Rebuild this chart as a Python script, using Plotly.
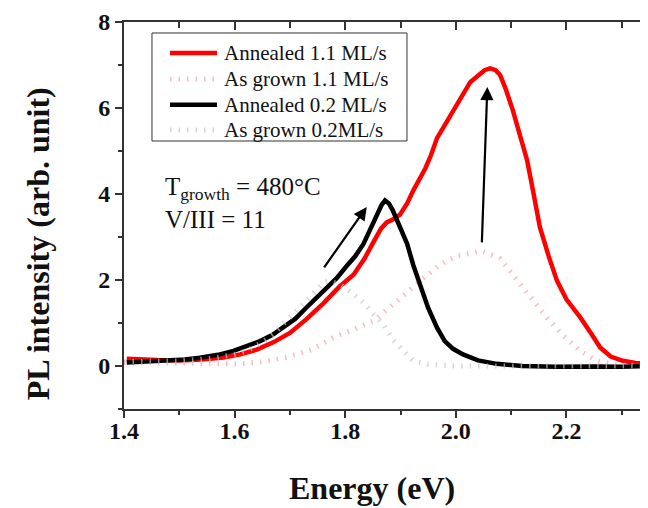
import plotly.graph_objects as go

# ---- data ----
e_ann11 = [1.405, 1.43, 1.46, 1.50, 1.54, 1.58, 1.61, 1.64, 1.67, 1.70, 1.73, 1.76, 1.79, 1.815, 1.835,
           1.851, 1.865, 1.875, 1.885, 1.899, 1.912, 1.923, 1.935, 1.945, 1.955, 1.966, 1.98, 1.992, 2.002,
           2.015, 2.026, 2.04, 2.052, 2.062, 2.072, 2.080, 2.09, 2.103, 2.116, 2.129, 2.14, 2.152, 2.168,
           2.183, 2.20, 2.225, 2.245, 2.261, 2.28, 2.302, 2.325, 2.35]
i_ann11 = [0.17, 0.15, 0.14, 0.13, 0.15, 0.2, 0.27, 0.38, 0.55, 0.77, 1.09, 1.45, 1.85, 2.12, 2.5,
           2.88, 3.2, 3.34, 3.4, 3.52, 3.78, 4.08, 4.35, 4.6, 4.9, 5.3, 5.6, 5.85, 6.1,
           6.35, 6.6, 6.75, 6.88, 6.92, 6.88, 6.77, 6.45, 5.95, 5.4, 4.78, 4.05, 3.23, 2.55,
           1.98, 1.55, 1.13, 0.75, 0.43, 0.22, 0.12, 0.07, 0.05]

e_ann02 = [1.405, 1.44, 1.477, 1.51, 1.537, 1.57, 1.598, 1.62, 1.646, 1.668, 1.688, 1.71, 1.730, 1.75,
           1.767, 1.785, 1.803, 1.818, 1.833, 1.846, 1.857, 1.866, 1.872, 1.879, 1.886, 1.898, 1.912,
           1.923, 1.935, 1.95, 1.966, 1.98, 1.995, 2.013, 2.04, 2.074, 2.12, 2.18, 2.25, 2.30, 2.35]
i_ann02 = [0.08, 0.1, 0.12, 0.15, 0.19, 0.26, 0.35, 0.45, 0.58, 0.72, 0.89, 1.1, 1.36, 1.6,
           1.83, 2.05, 2.33, 2.55, 2.84, 3.2, 3.54, 3.75, 3.85, 3.78, 3.62, 3.25, 2.84,
           2.35, 1.91, 1.35, 0.89, 0.58, 0.4, 0.27, 0.13, 0.05, 0.0, -0.02, -0.01, -0.02, 0.0]

e_gr11 = [1.40, 1.50, 1.56, 1.61, 1.65, 1.694, 1.74, 1.778, 1.815, 1.851, 1.887, 1.92, 1.941, 1.97,
          2.0, 2.047, 2.08, 2.116, 2.14, 2.165, 2.195, 2.225, 2.255, 2.29, 2.35]
i_gr11 = [0.08, 0.06, 0.05, 0.05, 0.1, 0.2, 0.38, 0.66, 0.85, 1.05, 1.44, 1.8, 2.06, 2.35,
          2.55, 2.68, 2.5, 1.91, 1.55, 1.12, 0.7, 0.35, 0.12, 0.03, 0.0]

e_gr02 = [1.40, 1.50, 1.56, 1.60, 1.622, 1.646, 1.67, 1.695, 1.718, 1.74, 1.76, 1.772, 1.79, 1.815,
          1.835, 1.851, 1.87, 1.887, 1.905, 1.923, 1.95, 2.0, 2.1, 2.2, 2.35]
i_gr02 = [0.1, 0.12, 0.18, 0.27, 0.35, 0.52, 0.74, 1.05, 1.36, 1.65, 1.94, 1.98, 1.9, 1.67,
          1.45, 1.21, 0.95, 0.6, 0.35, 0.12, 0.04, 0.0, 0.0, 0.0, 0.0]

names = ["Annealed 1.1 ML/s", "As grown 1.1 ML/s", "Annealed 0.2 ML/s", "As grown 0.2ML/s"]

# arrows: (tail E, tail I, head E, head I)
arrow1 = [1.760, 2.26, 1.839, 3.70]
arrow2 = [2.047, 2.84, 2.057, 6.49]

FONT = "Liberation Serif, Times New Roman, serif"
RED = "#ff0000"
BLACK = "#000000"
PINK = "rgba(245,160,170,0.7)"
GREY = "rgba(200,195,198,0.7)"
DOT = "1.5px,7px"

styles = [dict(color=RED, width=4.5), dict(color=PINK, width=5, dash=DOT),
          dict(color=BLACK, width=4.5), dict(color=GREY, width=5, dash=DOT)]
series = [(e_ann11, i_ann11), (e_gr11, i_gr11), (e_ann02, i_ann02), (e_gr02, i_gr02)]

fig = go.Figure()
for (ex, iy), nm, st in zip(series, names, styles):
    fig.add_trace(go.Scatter(x=ex, y=iy, mode="lines", name=nm, line=st, showlegend=False))
# empty trace to activate the mirrored top axis
fig.add_trace(go.Scatter(x=[], y=[], xaxis="x2", showlegend=False, hoverinfo="skip"))

xr = [1.4, 2.3475]
tickfont = dict(family=FONT, size=24, color="#111", weight="bold")
fig.update_layout(
    width=640, height=500,
    margin=dict(l=116, r=0, t=14, b=99, autoexpand=False),
    paper_bgcolor="white", plot_bgcolor="white",
    xaxis=dict(range=xr, tick0=1.4, dtick=0.2, tickformat=".1f",
               ticks="outside", ticklen=7, tickwidth=1.5, tickcolor="#333",
               showline=True, linewidth=2, linecolor="#333", ticklabelstandoff=-8,
               showgrid=False, zeroline=False, tickfont=tickfont,
               minor=dict(dtick=0.1, ticks="outside", ticklen=4, tickwidth=1.5, tickcolor="#333")),
    xaxis2=dict(range=xr, overlaying="x", side="top", tick0=1.4, dtick=0.2,
                ticks="inside", ticklen=8, tickwidth=1.5, tickcolor="#333",
                showline=True, linewidth=2, linecolor="#333",
                showgrid=False, zeroline=False, showticklabels=False,
                minor=dict(dtick=0.1, ticks="inside", ticklen=6, tickwidth=1.5, tickcolor="#333")),
    yaxis=dict(range=[-1, 8], tick0=0, dtick=2,
               ticks="outside", ticklen=7, tickwidth=1.5, tickcolor="#333",
               showline=True, linewidth=2, linecolor="#333",
               showgrid=False, zeroline=False, tickfont=tickfont,
               minor=dict(dtick=1, ticks="outside", ticklen=4, tickwidth=1.5, tickcolor="#333")),
)

# ---- legend (box, samples, labels) in paper coordinates ----
fig.add_shape(type="rect", xref="paper", yref="paper", x0=0.0534, x1=0.540, y0=0.6925, y1=0.9716,
              line=dict(color="#333", width=1), fillcolor="white", layer="above")
row_y = [0.920, 0.853, 0.786, 0.721]
for nm, st, yy in zip(names, styles, row_y):
    fig.add_shape(type="line", xref="paper", yref="paper", x0=0.0878, x1=0.1775, y0=yy, y1=yy,
                  line=st, layer="above")
    fig.add_annotation(x=0.187, y=yy, xref="paper", yref="paper", xanchor="left", yanchor="middle",
                       showarrow=False, text=nm, font=dict(family=FONT, size=21, color="#111"))

for a in (arrow1, arrow2):
    fig.add_annotation(x=a[2], y=a[3], ax=a[0], ay=a[1], xref="x", yref="y", axref="x", ayref="y",
                       showarrow=True, arrowhead=2, arrowsize=1.2, arrowwidth=2.2, arrowcolor="#000", text="")

fig.add_annotation(x=1.471, y=4.12, xref="x", yref="y", xanchor="left", yanchor="middle", showarrow=False,
                   text="T<sub>growth</sub> = 480°C", font=dict(family=FONT, size=25, color="#111"))
fig.add_annotation(x=1.471, y=3.40, xref="x", yref="y", xanchor="left", yanchor="middle", showarrow=False,
                   text="V/III = 11", font=dict(family=FONT, size=25, color="#111"))

# axis titles
fig.add_annotation(x=0.473, y=-0.204, xref="paper", yref="paper", xanchor="center", yanchor="middle",
                   showarrow=False, text="Energy (eV)",
                   font=dict(family=FONT, size=32, color="#111", weight="bold"))
fig.add_annotation(x=-0.164, y=0.426, xref="paper", yref="paper", xanchor="center", yanchor="middle",
                   showarrow=False, text="PL intensity (arb. unit)", textangle=-90,
                   font=dict(family=FONT, size=32, color="#111", weight="bold"))

fig.write_html("out.html")
